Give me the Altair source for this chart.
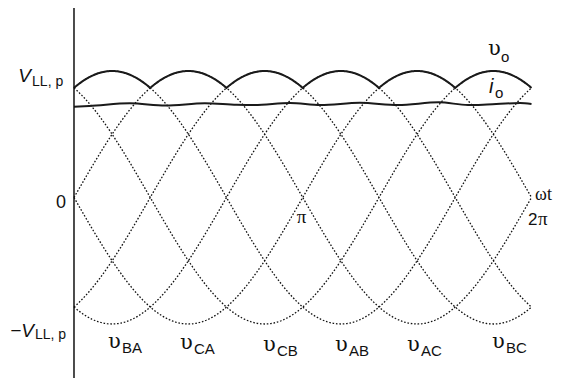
import numpy as np
import pandas as pd
import altair as alt

# ---- data (angles in degrees, voltages per unit of V_LL,p) ----
peak_deg = [30, 90, 150, 210, 270, 330]      # peaks of the six line-line voltages
amplitude = 1.0
theta = np.arange(0, 361, 1)

io_deg = [0, 12, 44, 72, 103, 128, 142, 170, 194, 225, 255, 287, 310, 325, 351, 360]
io_val = [0.718, 0.723, 0.745, 0.727, 0.745, 0.733, 0.731, 0.747, 0.731, 0.749,
          0.731, 0.753, 0.731, 0.735, 0.747, 0.739]

phase_labels = ["BA", "CA", "CB", "AB", "AC", "BC"]
phase_label_x = [26.8, 83.4, 148.7, 205.4, 262.0, 328.9]
phase_label_y = [-1.19, -1.20, -1.21, -1.21, -1.21, -1.19]

# ---- derived tables ----
rows = []
for k, p in enumerate(peak_deg):
    for t in theta:
        rows.append({"t": float(t), "v": amplitude * np.cos(np.radians(t - p)), "c": k})
curves = pd.DataFrame(rows)
env = curves.groupby("t", as_index=False)["v"].max()
io = pd.DataFrame({"t": io_deg, "v": io_val})

xs = alt.Scale(domain=[-51.93, 377.7], nice=False, zero=False)
ys = alt.Scale(domain=[-1.427, 1.498], nice=False, zero=False)
X = lambda f: alt.X(f, type="quantitative", scale=xs, axis=None)
Y = lambda f: alt.Y(f, type="quantitative", scale=ys, axis=None)

dashed = alt.Chart(curves).mark_line(
    strokeDash=[1.6, 1.8], strokeWidth=1.3, color="#111"
).encode(x=X("t"), y=Y("v"), detail="c:N")

envelope = alt.Chart(env).mark_line(strokeWidth=2, color="#1a1a1a").encode(
    x=X("t"), y=Y("v"))

io_line = alt.Chart(io).mark_line(strokeWidth=2, color="#1a1a1a",
                                  interpolate="monotone").encode(x=X("t"), y=Y("v"))

axis_df = pd.DataFrame({"x": [0.0], "y": [1.498], "y2": [-1.427]})
axis_rule = alt.Chart(axis_df).mark_rule(strokeWidth=1.5, color="#111").encode(
    x=X("x"), y=Y("y"), y2="y2:Q")


def txt(items, **kw):
    df = pd.DataFrame(items, columns=["x", "y", "text"])
    base = dict(color="#111", baseline="alphabetic")
    base.update(kw)
    return alt.Chart(df).mark_text(**base).encode(x=X("x"), y=Y("y"), text="text:N")


sans = "Liberation Sans"
serif = "Liberation Serif"
greek = "DejaVu Serif"

layers = [
    dashed, io_line, envelope, axis_rule,
    # V_LL,p
    txt([(-33.8, 0.913, "V")], font=sans, fontSize=19, fontStyle="italic", align="right"),
    txt([(-33.0, 0.881, "LL, p")], font=sans, fontSize=14, align="left"),
    # 0
    txt([(-6.3, -0.083, "0")], font=sans, fontSize=18, align="right"),
    # -V_LL,p
    txt([(-31.5, -1.103, "\u2212V")], font=sans, fontSize=19, fontStyle="italic", align="right"),
    txt([(-30.7, -1.119, "LL, p")], font=sans, fontSize=14, align="left"),
    # phase labels
    txt(list(zip(phase_label_x, phase_label_y, ["\u03c5"] * 6)), font=greek, fontSize=21, align="left"),
    txt(list(zip(phase_label_x, phase_label_y, phase_labels)), font=sans, fontSize=15,
        align="left", dx=14, dy=5),
    # pi
    txt([(179.0, -0.202, "\u03c0")], font=serif, fontSize=19, align="center"),
    # wt and 2pi
    txt([(362.8, -0.02, "\u03c9t")], font=serif, fontSize=18, align="left"),
    txt([(357.3, -0.217, "2")], font=sans, fontSize=17, align="left"),
    txt([(357.3, -0.217, "\u03c0")], font=serif, fontSize=19, align="left", dx=10),
    # v_o, i_o
    txt([(325.8, 1.126, "\u03c5")], font=greek, fontSize=21, align="left"),
    txt([(325.8, 1.126, "o")], font=sans, fontSize=15, align="left", dx=13, dy=7),
    txt([(326.6, 0.826, "i")], font=sans, fontSize=20, fontStyle="italic", align="left"),
    txt([(326.6, 0.826, "o")], font=sans, fontSize=15, align="left", dx=6, dy=5),
]

chart = alt.layer(*layers).properties(
    width=546, height=370,
    autosize=alt.AutoSizeParams(type="none"),
    padding=0,
).configure_view(stroke=None)

chart.save("out.html", embed_options={"renderer": "svg", "actions": False})
